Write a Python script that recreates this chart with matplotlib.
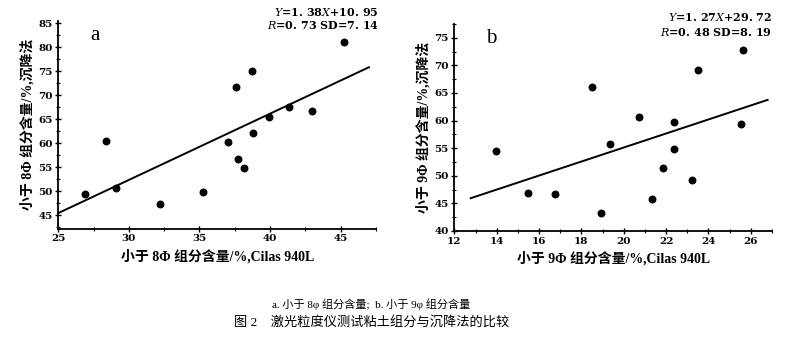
import numpy as np
import matplotlib.pyplot as plt
from matplotlib.ticker import MultipleLocator

# panel a: < 8 phi
a_x = [26.87, 28.36, 29.11, 32.22, 35.22, 37.04, 37.56, 37.73, 38.15, 38.70,
       38.79, 39.94, 41.36, 42.99, 45.23]
a_y = [49.4, 60.4, 50.7, 47.3, 49.8, 60.3, 71.7, 56.7, 54.85, 75.0,
       62.2, 65.4, 67.6, 66.8, 81.0]
a_fit = (1.38, 10.95)
a_line_x = [25.0, 47.0]

# panel b: < 9 phi
b_x = [13.97, 15.48, 16.74, 18.52, 18.95, 19.35, 20.74, 21.34, 21.84, 22.39,
       22.39, 23.21, 23.53, 25.54, 25.65]
b_y = [54.5, 46.94, 46.7, 66.07, 43.3, 55.8, 60.65, 45.8, 51.47, 59.7,
       54.9, 49.3, 69.1, 59.3, 72.8]
b_fit = (1.27, 29.72)
b_line_x = [12.77, 26.8]

fam = ["Liberation Serif", "Noto Sans CJK SC"]
plt.rcParams["font.family"] = fam
plt.rcParams["axes.linewidth"] = 1.3
plt.rcParams["mathtext.fontset"] = "dejavuserif"

W, H = 806, 338
fig = plt.figure(figsize=(W / 100, H / 100), dpi=100)
ax1 = fig.add_axes([0.0723, 0.3234, 0.3942, 0.6154])
ax2 = fig.add_axes([0.5637, 0.3166, 0.3940, 0.6124])


def panel(ax, x, y, fit, lx, xlim, ylim, xmaj, ymaj, letter, eq1, eq2, eq_px, xlab, ylab):
    ax.scatter(x, y, s=22, color="black", zorder=3)
    lx = np.array(lx)
    ax.plot(lx, fit[0] * lx + fit[1], color="black", lw=1.4)
    ax.set_xlim(*xlim)
    ax.set_ylim(*ylim)
    ax.xaxis.set_major_locator(MultipleLocator(xmaj))
    ax.xaxis.set_minor_locator(MultipleLocator(xmaj / 2))
    ax.yaxis.set_major_locator(MultipleLocator(ymaj))
    ax.yaxis.set_minor_locator(MultipleLocator(ymaj / 2))
    for s in ["top", "right"]:
        ax.spines[s].set_visible(False)
    ax.tick_params(which="major", direction="inout", length=4, width=1, pad=2)
    ax.tick_params(which="minor", direction="inout", length=3, width=0.8)
    for lab in ax.get_xticklabels() + ax.get_yticklabels():
        lab.set_fontweight("bold")
        lab.set_family("DejaVu Serif")
        lab.set_fontsize(7.5)
    ax.text(0.1, 0.93, letter, transform=ax.transAxes, fontsize=15, ha="left", va="center")
    xr, y1, y2 = eq_px
    fig.text(xr / W, 1 - y1 / H, eq1, fontsize=8, fontweight="bold",
             ha="right", va="center", family="DejaVu Serif")
    fig.text(xr / W, 1 - y2 / H, eq2, fontsize=8, fontweight="bold",
             ha="right", va="center", family="DejaVu Serif")
    ax.set_xlabel(xlab, fontsize=10, fontweight="bold", labelpad=4, family=fam)
    ax.set_ylabel(ylab, fontsize=10, fontweight="bold", labelpad=3, family=fam)


panel(ax1, a_x, a_y, a_fit, a_line_x, (25, 47.5), (42.2, 85.5), 5, 5, "a",
      r"$\mathit{Y}$=1. 38$\mathit{X}$+10. 95", r"$\mathit{R}$=0. 73 SD=7. 14",
      (379, 12, 25),
      "小于 8Φ 组分含量/%,Cilas 940L", "小于 8Φ 组分含量/%,沉降法")
panel(ax2, b_x, b_y, b_fit, b_line_x, (12, 27), (40, 77.5), 2, 5, "b",
      r"$\mathit{Y}$=1. 27$\mathit{X}$+29. 72", r"$\mathit{R}$=0. 48 SD=8. 19",
      (772, 17, 32),
      "小于 9Φ 组分含量/%,Cilas 940L", "小于 9Φ 组分含量/%,沉降法")

fig.text(0.461, 1 - 304 / H, "a. 小于 8φ 组分含量;  b. 小于 9φ 组分含量",
         ha="center", va="center", fontsize=8, family=fam)
fig.text(0.461, 1 - 322 / H, "图 2    激光粒度仪测试粘土组分与沉降法的比较",
         ha="center", va="center", fontsize=9.5, family=fam)

fig.savefig("out.png", dpi=100, facecolor="white")
